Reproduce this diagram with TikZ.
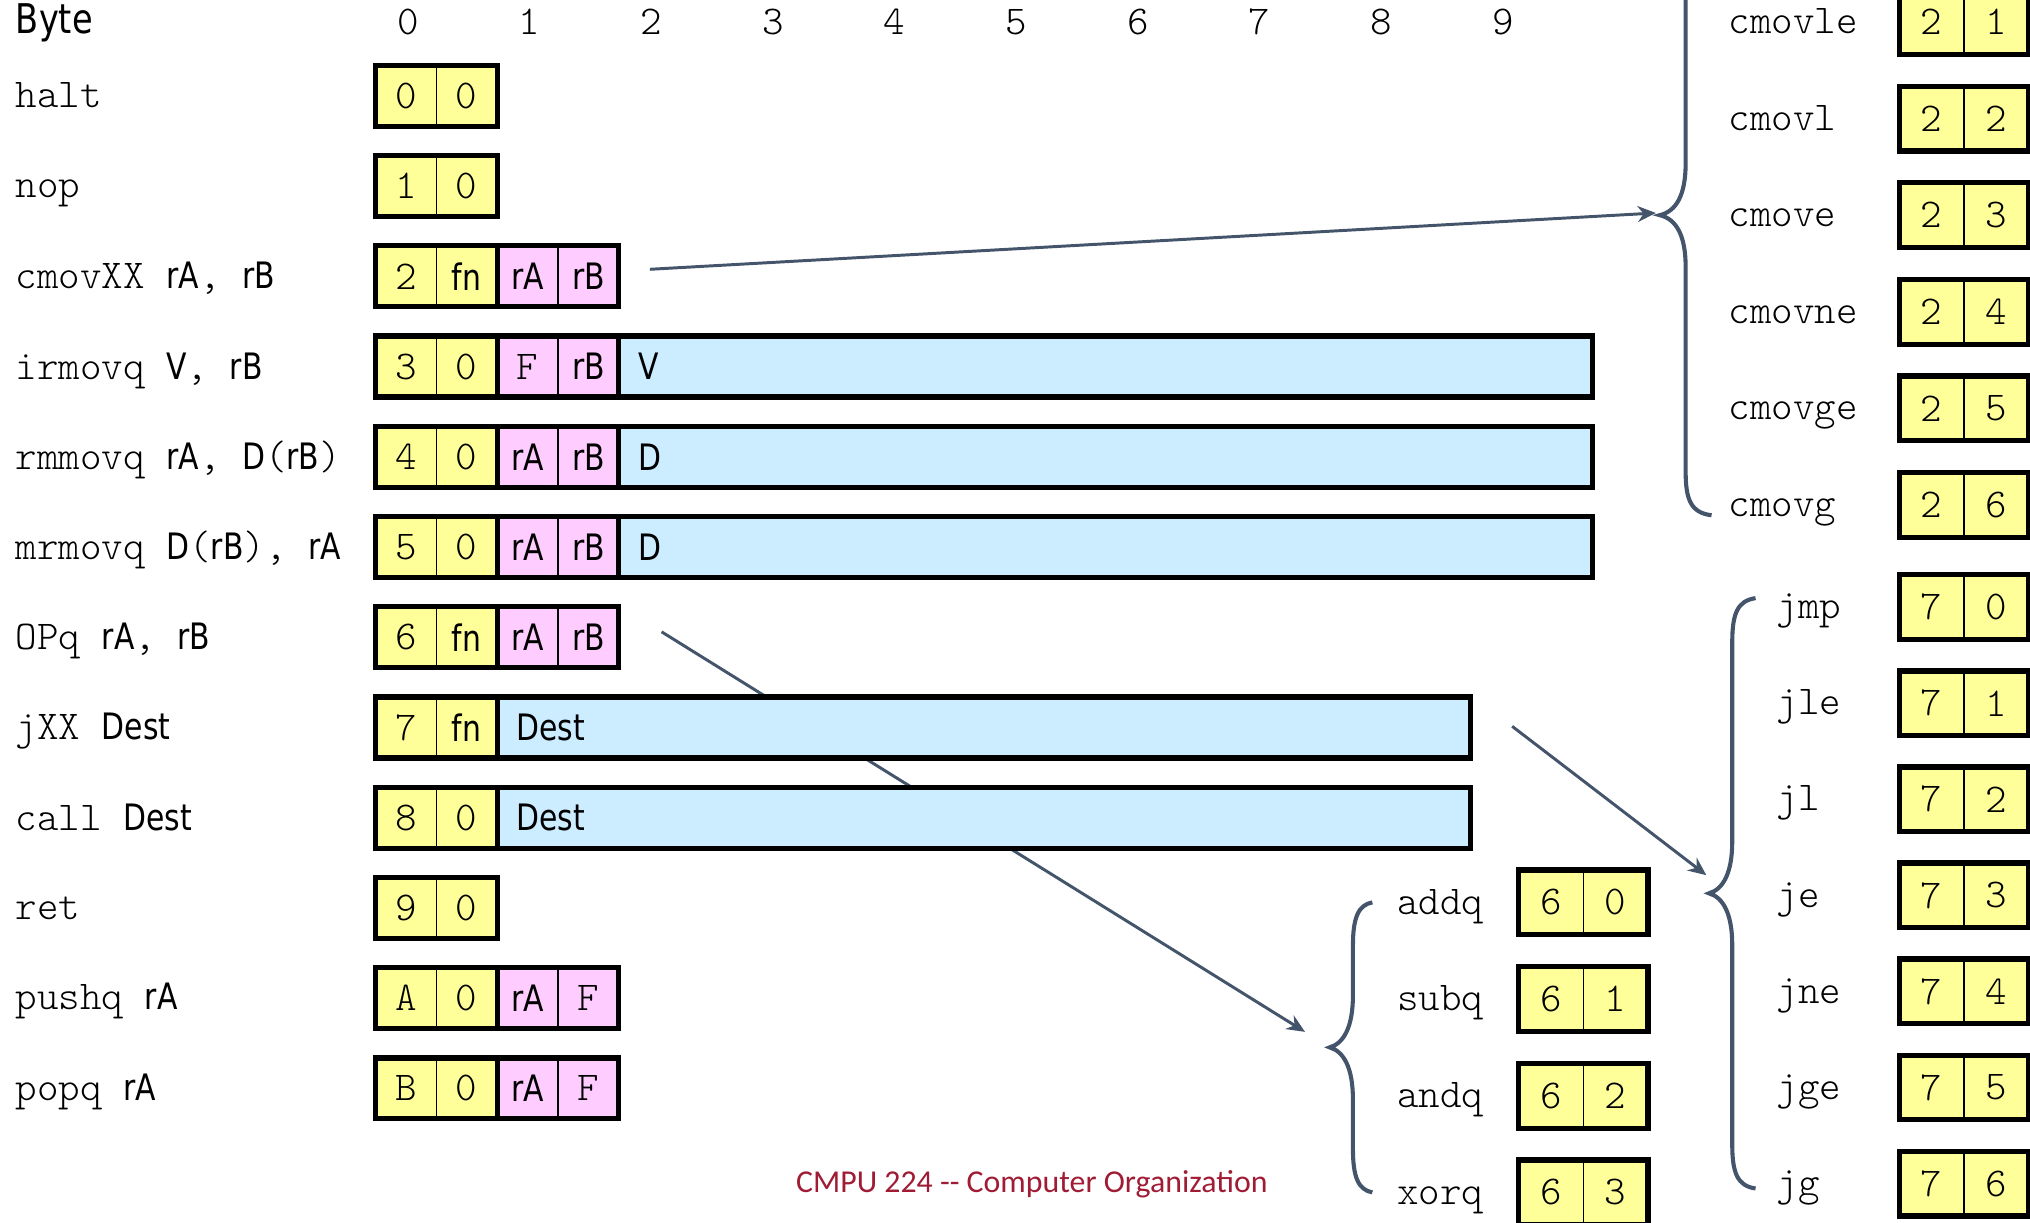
\documentclass[tikz,border=0pt]{standalone}
\usepackage{fontspec}
\setmainfont{Carlito}
\setsansfont{DejaVu Sans}[FakeStretch=0.82]
\setmonofont{Latin Modern Mono Light}
\newfontfamily\footfont{Carlito}
\usetikzlibrary{arrows.meta,calc}
\definecolor{cyel}{HTML}{FFFF99}
\definecolor{cpink}{HTML}{FFCCFF}
\definecolor{cblue}{HTML}{CCECFF}
\definecolor{slate}{HTML}{44546A}
\definecolor{footred}{HTML}{A01C34}
\newcommand\op[1]{{\sffamily\fontsize{16}{19}\selectfont #1}}
\newcommand\mfont{\ttfamily\fontsize{18}{21}\selectfont}
% pair of nibble cells: name, x-left, y, fill, text1, text2, style
\newcommand\nib[7]{%
  \node[#7,fill=#4,anchor=west] (#1a) at (#2,#3) {#5};
  \node[#7,fill=#4,anchor=west] (#1b) at (#1a.east) {#6};
  \draw[outerline] (#1a.north west) rectangle (#1b.south east);
}
% brace: tip x, mid y, vertical x, end x, top y, bottom y
\newcommand\mybrace[6]{%
  \draw[brc] (#4,#5) .. controls (#3+4,#5+2) and (#3,#5+12) .. (#3,#5+34)
    -- (#3,#2-40) .. controls (#3,#2-16) and (#3-7,#2-3) .. (#1,#2)
    .. controls (#3-7,#2+3) and (#3,#2+16) .. (#3,#2+40)
    -- (#3,#6-34) .. controls (#3,#6-12) and (#3+4,#6-2) .. (#4,#6);
}
\tikzset{
  cell/.style={draw, line width=0.6pt, outer sep=0pt, inner sep=0pt,
    minimum width=0.94cm, minimum height=0.94cm, font=\mfont},
  cellr/.style={cell, minimum width=1.0cm, minimum height=1.0cm},
  outerline/.style={line width=2.3pt},
  longbox/.style={draw, line width=2.3pt, fill=cblue, outer sep=0pt,
    inner xsep=0.3cm, inner ysep=0pt, minimum height=0.94cm,
    text width=14.44cm, align=left, anchor=west,
    font=\sffamily\fontsize{16}{19}\selectfont},
  lbl/.style={anchor=base west, yshift=-0.18cm, inner sep=0pt, font=\mfont},
  hdr/.style={inner sep=0pt, font=\mfont},
  brc/.style={draw=slate, line width=1.8pt},
  arr/.style={draw=slate, line width=1.3pt, -{Stealth[length=8pt,width=7pt]}},
}
\begin{document}
\begin{tikzpicture}[x=0.02cm,y=-0.02cm]
\useasboundingbox (0,0) rectangle (1568,944);
\clip (0,0) rectangle (1568,944);

% coordinates for connectors
\coordinate (cmovtip) at (1282,166.2);
\coordinate (jmptip) at (1320,690);
\coordinate (optip) at (1027,809);
\coordinate (a1s) at (502,208);
\coordinate (a2s) at (511,488);
\coordinate (a3s) at (1168,561);
\coordinate (a1e) at (1279,164.5);
\coordinate (a2e) at (1008,797);
\coordinate (a3e) at (1318,676);

% arrows (drawn first: the OPq arrow passes behind the long boxes)
\draw[arr] (a1s) -- (a1e);
\draw[arr] (a2s) -- (a2e);
\draw[arr] (a3s) -- (a3e);

% header
\node[anchor=west, inner sep=0pt, font=\sffamily\fontsize{18}{21}\selectfont] (byte) at (12,18) {Byte};
\foreach \i in {0,...,9} {
  \node[hdr] (h\i) at (315+94*\i,17) {\i};
}

% instruction labels
\node[lbl] (l0) at (12,74) {halt};
\node[lbl] (l1) at (12,143.7) {nop};
\node[lbl] (l2) at (12,214) {cmovXX \op{rA}, \op{rB}};
\node[lbl] (l3) at (12,284) {irmovq \op{V}, \op{rB}};
\node[lbl] (l4) at (12,353.5) {rmmovq \op{rA}, \op{D}(\op{rB})};
\node[lbl] (l5) at (12,423) {mrmovq \op{D}(\op{rB}), \op{rA}};
\node[lbl] (l6) at (12,493) {OPq \op{rA}, \op{rB}};
\node[lbl] (l7) at (12,562.5) {jXX \op{Dest}};
\node[lbl] (l8) at (12,632.5) {call \op{Dest}};
\node[lbl] (l9) at (12,701.3) {ret};
\node[lbl] (l10) at (12,771) {pushq \op{rA}};
\node[lbl] (l11) at (12,840.7) {popq \op{rA}};

% encodings
\nib{halt}{290}{74}{cyel}{0}{0}{cell}
\nib{nop}{290}{143.7}{cyel}{1}{0}{cell}
\nib{cmv}{290}{213.4}{cyel}{2}{\op{fn}}{cell}
\nib{cmvr}{384}{213.4}{cpink}{\op{rA}}{\op{rB}}{cell}
\nib{irm}{290}{283.1}{cyel}{3}{0}{cell}
\nib{irmr}{384}{283.1}{cpink}{F}{\op{rB}}{cell}
\node[longbox] (irmv) at (irmrb.east) {V};
\nib{rmm}{290}{352.8}{cyel}{4}{0}{cell}
\nib{rmmr}{384}{352.8}{cpink}{\op{rA}}{\op{rB}}{cell}
\node[longbox] (rmmd) at (rmmrb.east) {D};
\nib{mrm}{290}{422.5}{cyel}{5}{0}{cell}
\nib{mrmr}{384}{422.5}{cpink}{\op{rA}}{\op{rB}}{cell}
\node[longbox] (mrmd) at (mrmrb.east) {D};
\nib{opq}{290}{492.2}{cyel}{6}{\op{fn}}{cell}
\nib{opqr}{384}{492.2}{cpink}{\op{rA}}{\op{rB}}{cell}
\nib{jxx}{290}{561.9}{cyel}{7}{\op{fn}}{cell}
\node[longbox] (jxxd) at (jxxb.east) {Dest};
\nib{call}{290}{631.6}{cyel}{8}{0}{cell}
\node[longbox] (calld) at (callb.east) {Dest};
\nib{ret}{290}{701.3}{cyel}{9}{0}{cell}
\nib{push}{290}{771}{cyel}{A}{0}{cell}
\nib{pushr}{384}{771}{cpink}{\op{rA}}{F}{cell}
\nib{pop}{290}{840.7}{cyel}{B}{0}{cell}
\nib{popr}{384}{840.7}{cpink}{\op{rA}}{F}{cell}

% cmov family
\mybrace{1282}{166.2}{1302}{1322}{-66}{398}
\node[lbl] (c1) at (1335,17) {cmovle};
\nib{cm1}{1467}{17}{cyel}{2}{1}{cellr}
\node[lbl] (c2) at (1335,91.6) {cmovl};
\nib{cm2}{1467}{91.6}{cyel}{2}{2}{cellr}
\node[lbl] (c3) at (1335,166.2) {cmove};
\nib{cm3}{1467}{166.2}{cyel}{2}{3}{cellr}
\node[lbl] (c4) at (1335,240.8) {cmovne};
\nib{cm4}{1467}{240.8}{cyel}{2}{4}{cellr}
\node[lbl] (c5) at (1335,315.4) {cmovge};
\nib{cm5}{1467}{315.4}{cyel}{2}{5}{cellr}
\node[lbl] (c6) at (1335,390) {cmovg};
\nib{cm6}{1467}{390}{cyel}{2}{6}{cellr}

% jump family
\mybrace{1320}{690}{1338}{1356}{462}{918}
\node[lbl] (j0) at (1372,469) {jmp};
\nib{jm0}{1467}{469}{cyel}{7}{0}{cellr}
\node[lbl] (j1) at (1372,543.2) {jle};
\nib{jm1}{1467}{543.2}{cyel}{7}{1}{cellr}
\node[lbl] (j2) at (1372,617.4) {jl};
\nib{jm2}{1467}{617.4}{cyel}{7}{2}{cellr}
\node[lbl] (j3) at (1372,691.6) {je};
\nib{jm3}{1467}{691.6}{cyel}{7}{3}{cellr}
\node[lbl] (j4) at (1372,765.8) {jne};
\nib{jm4}{1467}{765.8}{cyel}{7}{4}{cellr}
\node[lbl] (j5) at (1372,840) {jge};
\nib{jm5}{1467}{840}{cyel}{7}{5}{cellr}
\node[lbl] (j6) at (1372,914.2) {jg};
\nib{jm6}{1467}{914.2}{cyel}{7}{6}{cellr}

% OPq family
\mybrace{1027}{809}{1045}{1060}{697}{921}
\node[lbl] (o0) at (1079,697) {addq};
\nib{op0}{1173}{697}{cyel}{6}{0}{cellr}
\node[lbl] (o1) at (1079,771.7) {subq};
\nib{op1}{1173}{771.7}{cyel}{6}{1}{cellr}
\node[lbl] (o2) at (1079,846.4) {andq};
\nib{op2}{1173}{846.4}{cyel}{6}{2}{cellr}
\node[lbl] (o3) at (1079,921) {xorq};
\nib{op3}{1173}{921}{cyel}{6}{3}{cellr}

% footer
\node[text=footred, inner sep=0pt, font=\footfont\fontsize{14}{17}\selectfont] (foot) at (797,915) {CMPU 224 -{}- Computer Organization};
\end{tikzpicture}
\end{document}
